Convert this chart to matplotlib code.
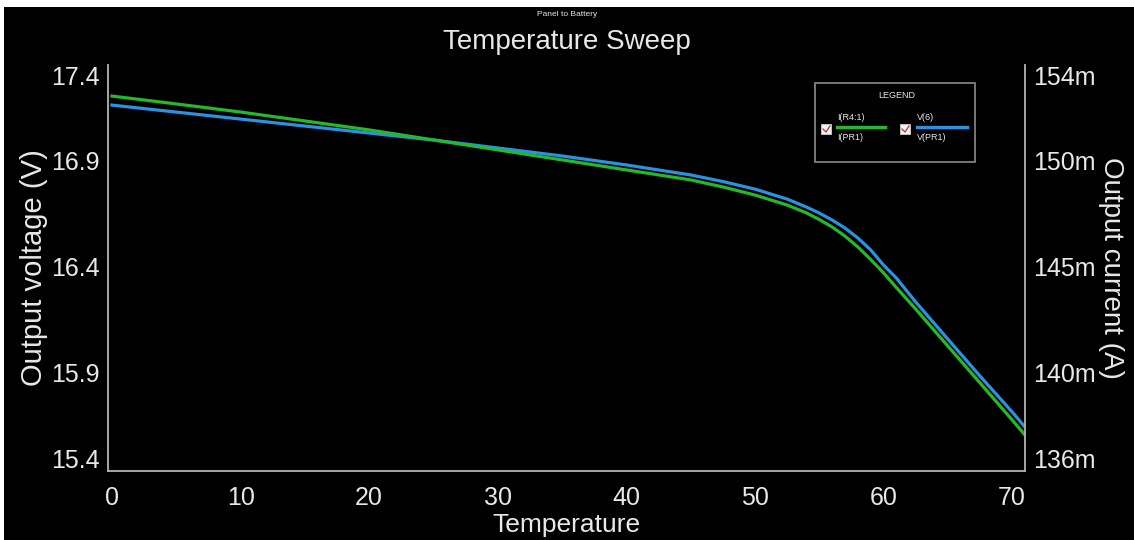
import matplotlib
matplotlib.use("Agg")
import matplotlib.pyplot as plt
from matplotlib.patches import Rectangle
from matplotlib.lines import Line2D

plt.rcParams["font.family"] = ["Liberation Sans", "DejaVu Sans"]

# Sweep points (degrees)
temperature = [0, 5, 10, 15, 20, 25, 30, 35, 40, 45, 47.5, 50, 52.5, 54, 55,
               56, 57, 58, 59, 60, 61, 62.5, 65, 67.5, 70, 71]

# V(6): output voltage (V), left axis
v_out = [17.209, 17.174, 17.139, 17.104, 17.069, 17.034, 16.994, 16.954,
         16.909, 16.859, 16.826, 16.788, 16.738, 16.698, 16.668, 16.633,
         16.593, 16.543, 16.483, 16.407, 16.342, 16.222, 16.036, 15.851,
         15.671, 15.595]

# I(R4:1): output current (A), right axis
i_out = [0.15301, 0.15264, 0.15226, 0.15184, 0.15142, 0.15095, 0.15048,
         0.15001, 0.14954, 0.14907, 0.14874, 0.14836, 0.14789, 0.14752,
         0.14721, 0.14686, 0.14643, 0.14592, 0.14533, 0.14470, 0.14401,
         0.14300, 0.14126, 0.13953, 0.13779, 0.13708]

x_ticks = [0, 10, 20, 30, 40, 50, 60, 70]
current_ticks = [0.136, 0.140, 0.145, 0.150, 0.154]

V_LIM = (15.375, 17.41)
I_LIM = (0.13539, 0.15447)
T_LIM = (-0.31, 71.0)

FG = "#e8e8e8"
SPINE = "#b4b4b4"
GREEN = "#25b82a"
BLUE = "#2a92e0"

fig = plt.figure(figsize=(11.34, 5.40), dpi=100)
fig.patch.set_facecolor("white")
# dark canvas behind the whole plot
fig.add_artist(Rectangle((4 / 1134, 0), 1 - 4 / 1134, 1 - 7 / 540,
                         transform=fig.transFigure, facecolor="black",
                         edgecolor="none", zorder=-10))

ax = fig.add_axes([108 / 1134, 1 - 471 / 540, (1025 - 108) / 1134, (471 - 65) / 540])
ax.set_facecolor("black")
axr = ax.twinx()

ax.plot(temperature, v_out, color=BLUE, lw=2.3, solid_joinstyle="round")
axr.plot(temperature, i_out, color=GREEN, lw=2.3, solid_joinstyle="round")

ax.set_xlim(*T_LIM)
ax.set_ylim(*V_LIM)
axr.set_ylim(*I_LIM)

ax.set_xticks(x_ticks)
ax.set_xticklabels([str(t) for t in x_ticks])

# Current ticks on the right; voltage ticks sit at the same heights on the left
axr.set_yticks(current_ticks)
axr.set_yticklabels([f"{c * 1000:.0f}m" for c in current_ticks])
frac = [(c - I_LIM[0]) / (I_LIM[1] - I_LIM[0]) for c in current_ticks]
v_ticks = [V_LIM[0] + f * (V_LIM[1] - V_LIM[0]) for f in frac]
ax.set_yticks(v_ticks)
ax.set_yticklabels([f"{v:.1f}" for v in v_ticks])

for a in (ax, axr):
    a.tick_params(colors=FG, labelsize=18, length=0, pad=6)
    for side, sp in a.spines.items():
        sp.set_color(SPINE)
        sp.set_linewidth(1.3)
    a.spines["top"].set_visible(False)
ax.spines["right"].set_visible(False)
axr.spines["left"].set_visible(False)
axr.spines["bottom"].set_visible(False)
ax.tick_params(axis="x", pad=11)

ax.set_xlabel("Temperature", color=FG, fontsize=19, labelpad=2)
ax.set_ylabel("Output voltage (V)", color=FG, fontsize=21, labelpad=2)
axr.set_ylabel("Output current (A)", color=FG, fontsize=20, rotation=270,
               labelpad=20)

fig.text(0.5, 1 - 42 / 540, "Temperature Sweep", color=FG, fontsize=20,
         ha="center", va="center")
fig.text(0.5, 1 - 15 / 540, "Panel to Battery", color=FG, fontsize=6,
         ha="center", va="center")

# Legend panel
lx0, lx1, ly0, ly1 = 815, 975, 83, 162
def fx(px):
    return px / 1134
def fy(py):
    return 1 - py / 540

fig.add_artist(Rectangle((fx(lx0), fy(ly1)), fx(lx1) - fx(lx0), fy(ly0) - fy(ly1),
                         transform=fig.transFigure, facecolor="black",
                         edgecolor="#8c8c8c", lw=1.2, zorder=5))
fig.text(fx(897), fy(96), "LEGEND", color=FG, fontsize=6.5, ha="center",
         va="center", zorder=6)

entries = [("I(R4:1)", "I(PR1)", GREEN, 826, 837, 885),
           ("V(6)", "V(PR1)", BLUE, 905, 917, 967)]
for top, bottom, col, bx, x0, x1 in entries:
    fig.add_artist(Rectangle((fx(bx - 5), fy(134)), 10 / 1134, 10 / 540,
                             transform=fig.transFigure, facecolor="#f2f2f2",
                             edgecolor="#cccccc", lw=0.6, zorder=6))
    fig.add_artist(Line2D([fx(bx - 3), fx(bx), fx(bx + 4)],
                          [fy(129), fy(132), fy(126)],
                          transform=fig.transFigure, color="#c03030",
                          lw=0.9, zorder=7))
    fig.add_artist(Line2D([fx(x0), fx(x1)], [fy(127), fy(127)],
                          transform=fig.transFigure, color=col, lw=2.4,
                          zorder=6))
    fig.text(fx(x0), fy(117), top, color=FG, fontsize=6.5, ha="left",
             va="center", zorder=6)
    fig.text(fx(x0), fy(137), bottom, color=FG, fontsize=6.5, ha="left",
             va="center", zorder=6)

fig.savefig("out.png", dpi=100, facecolor=fig.get_facecolor())
